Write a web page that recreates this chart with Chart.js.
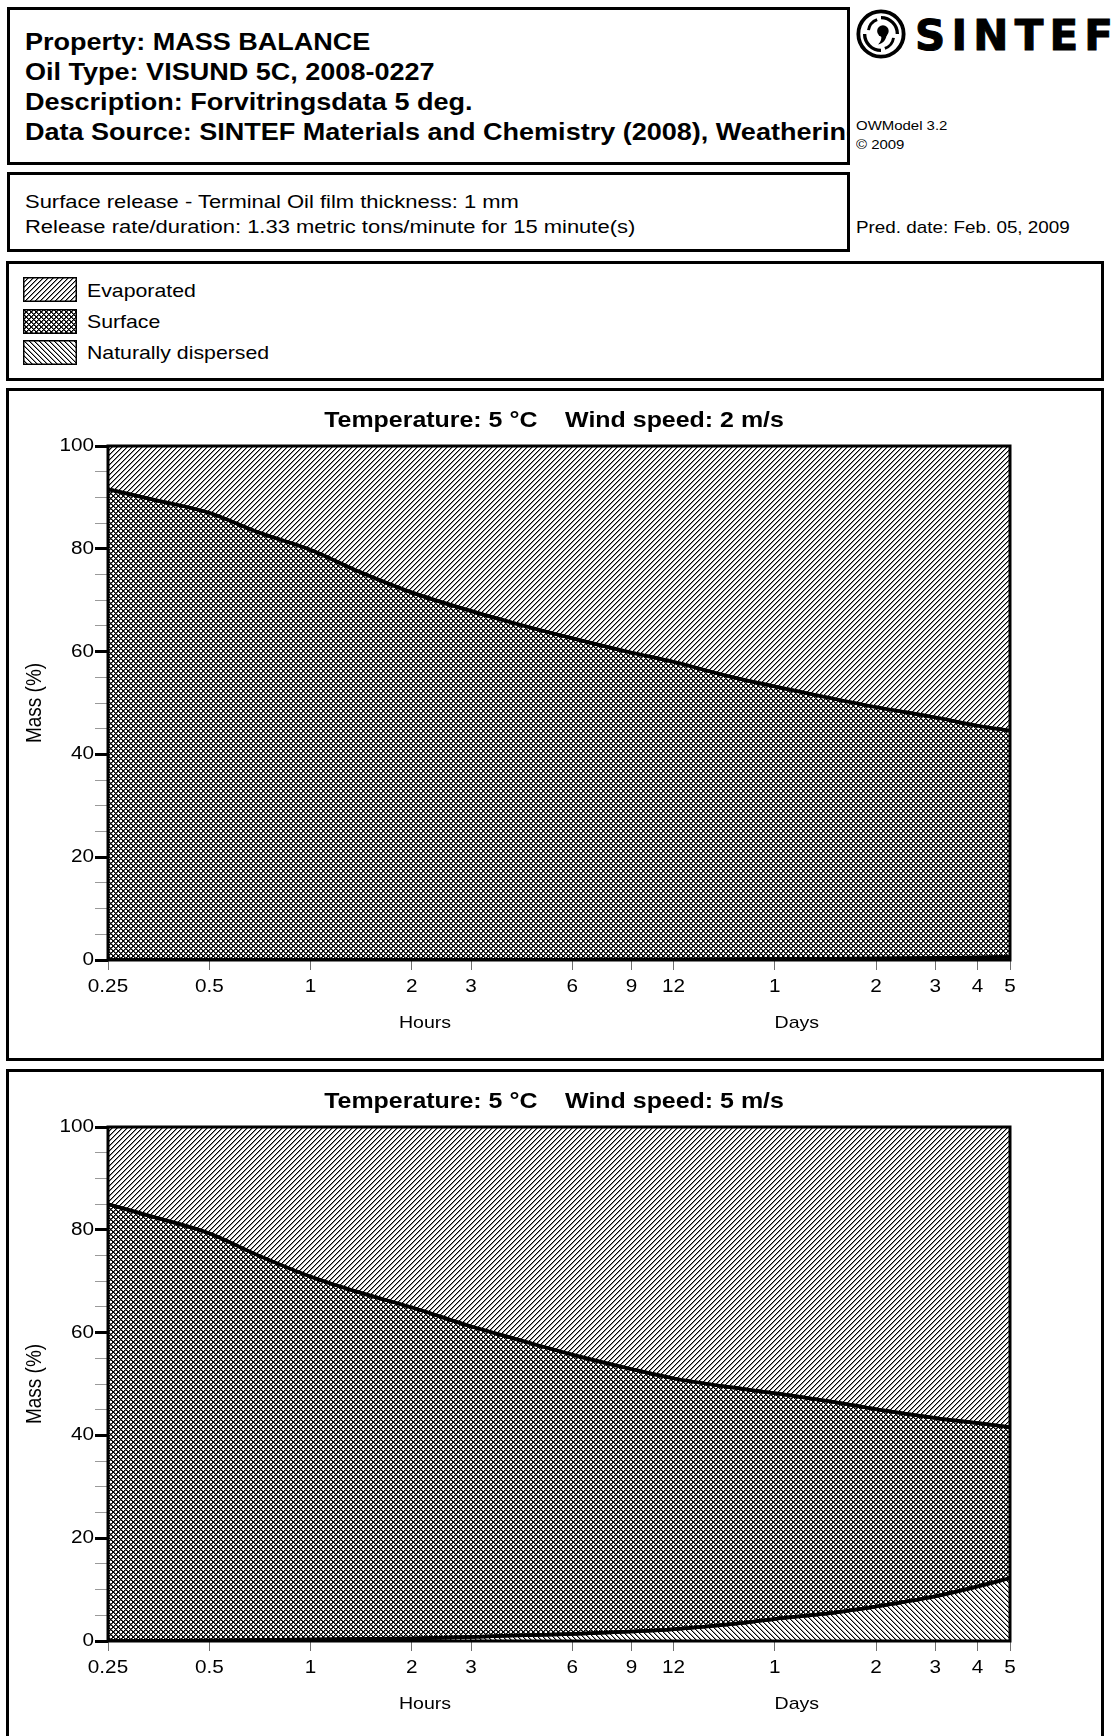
<!DOCTYPE html>
<html><head><meta charset="utf-8">
<script src="https://cdn.jsdelivr.net/npm/chart.js@4.4.1/dist/chart.umd.min.js"></script>
<style>
html,body{margin:0;padding:0;background:#fff;}
body{width:1114px;height:1736px;position:relative;overflow:hidden;font-family:'Liberation Sans',Arial,sans-serif;color:#000;}
.box{position:absolute;border:3px solid #000;box-sizing:border-box;}
.abs{position:absolute;white-space:nowrap;}
.st{display:inline-block;transform:scaleX(1.15);transform-origin:0 50%;}
.clip{position:absolute;left:25px;width:822px;overflow:hidden;white-space:nowrap;}
.hdr{font-weight:bold;font-size:23.5px;line-height:30px;height:30px;}
.sub{left:25px;font-size:19.1px;line-height:25px;}
.small{left:856px;font-size:13px;line-height:16px;}
.legtxt{left:87px;font-size:18.5px;line-height:22px;}
.sw{position:absolute;left:23px;}
.chartwrap{position:absolute;left:0;width:1114px;height:672px;}
</style>
</head><body>

<div class="box" style="left:7px;top:7px;width:843px;height:158px;"></div>
<div class="clip hdr" style="top:27px;"><span class="st">Property: MASS BALANCE</span></div>
<div class="clip hdr" style="top:57px;"><span class="st">Oil Type: VISUND 5C, 2008-0227</span></div>
<div class="clip hdr" style="top:87px;"><span class="st">Description: Forvitringsdata 5 deg.</span></div>
<div class="clip hdr" style="top:117px;"><span class="st">Data Source: SINTEF Materials and Chemistry (2008), Weathering</span></div>

<div class="box" style="left:7px;top:172px;width:843px;height:80px;"></div>
<div class="abs sub" style="top:189px;"><span class="st">Surface release - Terminal Oil film thickness: 1 mm</span></div>
<div class="abs sub" style="top:214px;"><span class="st">Release rate/duration: 1.33 metric tons/minute for 15 minute(s)</span></div>

<svg style="position:absolute;left:855px;top:8px;" width="52" height="52" viewBox="0 0 54 54">
  <circle cx="27" cy="27" r="23.5" fill="none" stroke="#000" stroke-width="4"/>
  <path d="M27 10 A17 17 0 0 1 44 27" fill="none" stroke="#000" stroke-width="3.5"/>
  <path d="M10 27 A17 17 0 0 0 27 44" fill="none" stroke="#000" stroke-width="3.5"/>
  <path d="M40 31 A14 14 0 0 1 31 42" fill="none" stroke="#000" stroke-width="3"/>
  <path d="M14 23 A14 14 0 0 1 23 12" fill="none" stroke="#000" stroke-width="3"/>
  <circle cx="29" cy="24" r="6" fill="#000"/>
  <path d="M33 26 C33 33 29 37 24 38 C27 35 28 31 27 29 Z" fill="#000"/>
</svg>
<div class="abs" style="left:915px;top:15px;font-family:'DejaVu Sans';font-size:42px;line-height:42px;font-weight:bold;letter-spacing:6.2px;-webkit-text-stroke:1px #000;">SINTEF</div>
<div class="abs small" style="top:118px;"><span class="st">OWModel 3.2</span></div>
<div class="abs small" style="top:137px;"><span class="st">© 2009</span></div>
<div class="abs" style="left:856px;top:217px;font-size:16.4px;line-height:20px;"><span class="st">Pred. date: Feb. 05, 2009</span></div>

<div class="box" style="left:6px;top:261px;width:1098px;height:120px;"></div>
<canvas class="sw" id="sw0" width="54" height="25" style="top:277px;"></canvas>
<canvas class="sw" id="sw1" width="54" height="25" style="top:309px;"></canvas>
<canvas class="sw" id="sw2" width="54" height="25" style="top:340px;"></canvas>
<div class="abs legtxt" style="top:280px;"><span class="st">Evaporated</span></div>
<div class="abs legtxt" style="top:311px;"><span class="st">Surface</span></div>
<div class="abs legtxt" style="top:342px;"><span class="st">Naturally dispersed</span></div>

<div class="box" style="left:6px;top:388px;width:1098px;height:673px;"></div>
<div class="box" style="left:6px;top:1069px;width:1098px;height:700px;"></div>
<div class="chartwrap" style="top:388px;"><canvas id="c1" width="1114" height="672"></canvas></div>
<div class="chartwrap" style="top:1069px;"><canvas id="c2" width="1114" height="672"></canvas></div>

<script>
// ---------- data ----------
const hours = [0.25, 0.35, 0.5, 0.7, 1, 1.4, 2, 3, 4, 6, 9, 12, 18, 24, 36, 48, 72, 96, 120];

const xTickValues = [0.25, 0.5, 1, 2, 3, 6, 9, 12, 24, 48, 72, 96, 120];
const xTickLabels = ['0.25', '0.5', '1', '2', '3', '6', '9', '12', '1', '2', '3', '4', '5'];
const yTickValues = [0, 5, 10, 15, 20, 25, 30, 35, 40, 45, 50, 55, 60, 65, 70, 75, 80, 85, 90, 95, 100];
const yTickLabels = ['0', '', '', '', '20', '', '', '', '40', '', '', '', '60', '', '', '', '80', '', '', '', '100'];
const yMajorTicks = [0, 20, 40, 60, 80, 100];
const xGroupLabels = ['Hours', 'Days'];
const xGroupAnchors = [2.19, 27.9];
const yTitle = 'Mass (%)';
const seriesNames = ['Naturally dispersed', 'Surface', 'Evaporated'];

const title2ms = 'Temperature: 5 °C    Wind speed: 2 m/s';
const dispersed2ms = [0, 0, 0, 0, 0, 0, 0, 0, 0.05, 0.05, 0.1, 0.1, 0.15, 0.2, 0.25, 0.3, 0.4, 0.5, 0.6];
const surface2ms = [91.6, 89.4, 87.0, 83.2, 79.8, 75.5, 71.5, 67.9, 65.55, 62.55, 59.7, 57.9, 54.85, 53.0, 50.55, 48.9, 46.8, 45.1, 44.0];
const evaporated2ms = [8.4, 10.6, 13.0, 16.8, 20.2, 24.5, 28.5, 32.1, 34.4, 37.4, 40.2, 42.0, 45.0, 46.8, 49.2, 50.8, 52.8, 54.4, 55.4];

const title5ms = 'Temperature: 5 °C    Wind speed: 5 m/s';
const dispersed5ms = [0, 0.05, 0.1, 0.2, 0.3, 0.4, 0.5, 0.8, 1.05, 1.35, 1.85, 2.3, 3.3, 4.3, 5.5, 6.7, 8.7, 10.6, 12.2];
const surface5ms = [85.0, 82.25, 79.2, 74.8, 70.6, 67.4, 64.4, 60.4, 57.85, 54.35, 51.05, 48.8, 46.0, 43.9, 41.0, 38.4, 34.7, 31.8, 29.4];
const evaporated5ms = [15.0, 17.7, 20.7, 25.0, 29.1, 32.2, 35.1, 38.8, 41.1, 44.3, 47.1, 48.9, 50.7, 51.8, 53.5, 54.9, 56.6, 57.6, 58.4];

// ---------- patterns ----------
function makeTile(n, fn) {
  const c = document.createElement('canvas');
  c.width = n; c.height = n;
  const g = c.getContext('2d');
  g.fillStyle = '#fff'; g.fillRect(0, 0, n, n);
  for (let y = 0; y < n; y++) for (let x = 0; x < n; x++) {
    const v = fn(x, y);
    if (v) { g.fillStyle = v; g.fillRect(x, y, 1, 1); }
  }
  return c;
}
const mod = (a, n) => ((a % n) + n) % n;
const evapTile = makeTile(5, (x, y) => mod(x + y, 5) === 0 ? '#000' : (mod(x + y, 5) === 1 ? '#8c8c8c' : null));
const surfTile = makeTile(5, (x, y) => {
  const a = mod(x - y, 5), b = mod(x + y, 5);
  if (a === 0 || b === 0) return '#000';
  if (a === 1 || b === 1) return '#5a5a5a';
  return null;
});
const dispTile = makeTile(5, (x, y) => mod(x - y, 5) === 0 ? '#000' : (mod(x - y, 5) === 1 ? '#9a9a9a' : null));

[evapTile, surfTile, dispTile].forEach((t, i) => {
  const c = document.getElementById('sw' + i);
  const g = c.getContext('2d');
  g.fillStyle = g.createPattern(t, 'repeat');
  g.fillRect(0, 0, c.width, c.height);
  g.strokeStyle = '#000'; g.lineWidth = 1.5;
  g.strokeRect(0.75, 0.75, c.width - 1.5, c.height - 1.5);
});

// ---------- chart ----------
const FONT = '"Liberation Sans", Arial, sans-serif';
const STRETCH = 1.15;
function sText(ctx, text, x, y, align, font, rotate) {
  ctx.save();
  ctx.translate(x, y);
  ctx.scale(STRETCH, 1);
  if (rotate) ctx.rotate(-Math.PI / 2);
  ctx.font = font;
  ctx.textAlign = align;
  ctx.textBaseline = 'middle';
  ctx.fillStyle = '#000';
  ctx.fillText(text, 0, 0);
  ctx.restore();
}

const framePlugin = {
  id: 'frame',
  afterDraw(chart) {
    const { ctx, chartArea: a } = chart;
    ctx.save();
    ctx.beginPath();
    ctx.rect(a.left, a.top, a.right - a.left, a.bottom - a.top);
    ctx.clip();
    [0, 1].forEach(i => {
      const m = chart.getDatasetMeta(i);
      if (m && m.dataset) m.dataset.draw(ctx, a);
    });
    ctx.restore();
    ctx.save();
    ctx.strokeStyle = '#000';
    ctx.lineWidth = 3;
    ctx.strokeRect(a.left, a.top, a.right - a.left, a.bottom - a.top);
    ctx.restore();
    const xs = chart.scales.x, ys = chart.scales.y;
    const f18 = '18px ' + FONT;
    xTickValues.forEach((v, i) => sText(ctx, xTickLabels[i], xs.getPixelForValue(v), a.bottom + 27, 'center', f18));
    yTickValues.forEach((v, i) => { if (yTickLabels[i]) sText(ctx, yTickLabels[i], a.left - 14, ys.getPixelForValue(v), 'right', f18); });
    xGroupLabels.forEach((t, i) => sText(ctx, t, xs.getPixelForValue(xGroupAnchors[i]), a.bottom + 63, 'center', '17px ' + FONT));
    sText(ctx, yTitle, 35, (a.top + a.bottom) / 2, 'center', '19px ' + FONT, true);
    sText(ctx, chart.options.plugins.chartTitle.text, 554, 33, 'center', 'bold 21.7px ' + FONT);
  }
};

function buildChart(id, title, dispersed, surface, evaporated) {
  const canvas = document.getElementById(id);
  const ctx = canvas.getContext('2d');
  const pat = t => ctx.createPattern(t, 'repeat');
  const pts = arr => hours.map((h, i) => ({ x: h, y: arr[i] }));
  const common = { pointRadius: 0, pointHoverRadius: 0, cubicInterpolationMode: 'monotone', borderColor: '#000' };
  return new Chart(ctx, {
    type: 'line',
    data: {
      datasets: [
        Object.assign({ label: seriesNames[0], data: pts(dispersed), fill: 'origin', backgroundColor: pat(dispTile), borderWidth: 3.5 }, common),
        Object.assign({ label: seriesNames[1], data: pts(surface), fill: '-1', backgroundColor: pat(surfTile), borderWidth: 3.5 }, common),
        Object.assign({ label: seriesNames[2], data: pts(evaporated), fill: '-1', backgroundColor: pat(evapTile), borderWidth: 0 }, common)
      ]
    },
    options: {
      responsive: false,
      animation: false,
      devicePixelRatio: 1,
      events: [],
      layout: { padding: { left: 10, right: 104, top: 58, bottom: 0 } },
      plugins: {
        legend: { display: false },
        tooltip: { enabled: false },
        title: { display: false },
        chartTitle: { text: title }
      },
      scales: {
        x: {
          type: 'logarithmic', min: 0.25, max: 120, bounds: 'data', z: 1,
          afterBuildTicks: ax => { ax.ticks = xTickValues.map(v => ({ value: v })); },
          afterFit: ax => { ax.height = 100; },
          ticks: { display: false, autoSkip: false, maxRotation: 0, minRotation: 0 },
          grid: { color: '#9a9a9a', lineWidth: 1, tickLength: 10, tickColor: '#707070' },
          border: { display: false }
        },
        y: {
          type: 'linear', min: 0, max: 100, stacked: true, z: 1,
          afterBuildTicks: ax => { ax.ticks = yTickValues.map(v => ({ value: v })); },
          afterFit: ax => { ax.width = 98; },
          ticks: { display: false },
          grid: {
            color: '#9a9a9a', lineWidth: 1, tickLength: 13,
            tickColor: c => (c.tick && yMajorTicks.includes(c.tick.value)) ? '#000' : '#9a9a9a',
            tickWidth: c => (c.tick && yMajorTicks.includes(c.tick.value)) ? 3 : 1
          },
          border: { display: false }
        }
      }
    },
    plugins: [framePlugin]
  });
}

buildChart('c1', title2ms, dispersed2ms, surface2ms, evaporated2ms);
buildChart('c2', title5ms, dispersed5ms, surface5ms, evaporated5ms);
</script>
</body></html>
